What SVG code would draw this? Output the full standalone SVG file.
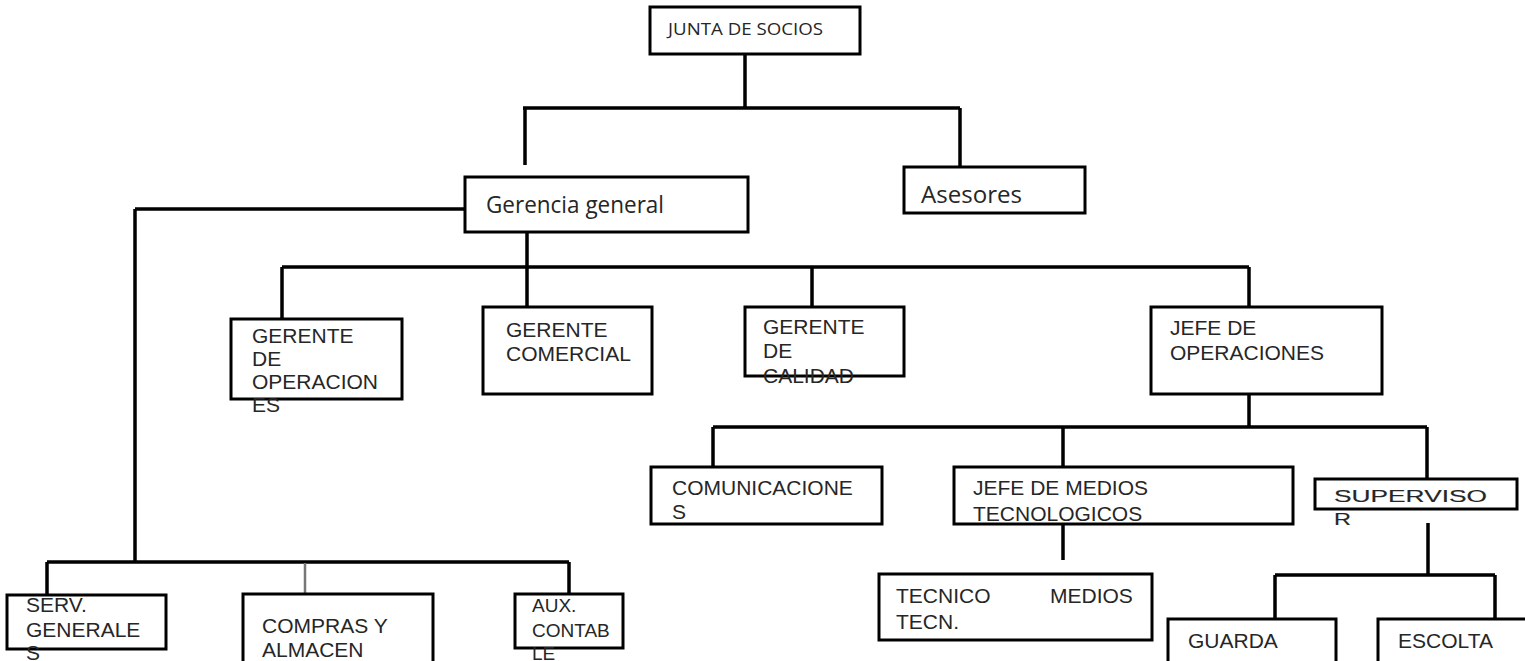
<svg xmlns="http://www.w3.org/2000/svg" width="1525" height="661" viewBox="0 0 1525 661">
<style>
.bg{fill:#ffffff}
.box{fill:#ffffff;stroke:#000000;stroke-width:3}
.ln{stroke:#000000;stroke-width:3.5;fill:none;stroke-linecap:butt}
.lg{stroke:#777777;stroke-width:2.5;fill:none}
.t{font-family:"Liberation Sans",Arial,sans-serif;font-size:21px;fill:#262626}
.s{font-size:19px}
.sv{font-size:17px;stroke:#262626;stroke-width:0.15}
.c{font-family:"Open Sans","Noto Sans",sans-serif;fill:#262626}
</style>
<rect class="bg" x="0" y="0" width="1525" height="661"/>
<g id="connectors">
<path class="ln" d="M745 54 V108 M523 108 H960 M525 108 V165 M960 108 V166"/>
<path class="ln" d="M135 209 H465 M135 209 V562"/>
<path class="ln" d="M527 232 V267 M282 267 H1249 M282 267 V319 M527 267 V307 M812 267 V307 M1249 267 V307"/>
<path class="ln" d="M47 562 H569 M47 562 V595 M569 562 V594"/>
<path class="lg" d="M305 563 V594"/>
<path class="ln" d="M1249 394 V427 M713 427 H1427 M713 427 V467 M1063 427 V467 M1427 427 V479"/>
<path class="ln" d="M1063 524 V560"/>
<path class="ln" d="M1428 523 V575 M1275 575 H1495 M1275 575 V619 M1495 575 V619"/>
</g>
<g id="junta">
<rect class="box" x="650" y="7" width="210" height="47"/>
<text class="c" x="668" y="35" font-size="17" textLength="155" lengthAdjust="spacingAndGlyphs">JUNTA DE SOCIOS</text>
</g>
<g id="gerencia">
<rect class="box" x="465" y="177" width="283" height="55"/>
<text class="c" x="486" y="213" font-size="23" textLength="178" lengthAdjust="spacingAndGlyphs">Gerencia general</text>
</g>
<g id="asesores">
<rect class="box" x="904" y="167" width="181" height="46"/>
<text class="c" x="921" y="203" font-size="23" textLength="101" lengthAdjust="spacingAndGlyphs">Asesores</text>
</g>
<g id="gerente-operaciones">
<rect class="box" x="231" y="319" width="171" height="80"/>
<text class="t" x="252" y="343">GERENTE</text>
<text class="t" x="252" y="366">DE</text>
<text class="t" x="252" y="389">OPERACION</text>
<text class="t" x="252" y="412">ES</text>
</g>
<g id="gerente-comercial">
<rect class="box" x="483" y="307" width="169" height="87"/>
<text class="t" x="506" y="337">GERENTE</text>
<text class="t" x="506" y="361">COMERCIAL</text>
</g>
<g id="gerente-calidad">
<rect class="box" x="745" y="307" width="159" height="69"/>
<text class="t" x="763" y="334">GERENTE</text>
<text class="t" x="763" y="358">DE</text>
<text class="t" x="763" y="383">CALIDAD</text>
</g>
<g id="jefe-operaciones">
<rect class="box" x="1151" y="307" width="231" height="87"/>
<text class="t" x="1170" y="335">JEFE DE</text>
<text class="t" x="1170" y="360">OPERACIONES</text>
</g>
<g id="comunicaciones">
<rect class="box" x="651" y="467" width="231" height="57"/>
<text class="t" x="672" y="495">COMUNICACIONE</text>
<text class="t" x="672" y="519">S</text>
</g>
<g id="jefe-medios">
<rect class="box" x="954" y="467" width="339" height="57"/>
<text class="t" x="973" y="495">JEFE DE MEDIOS</text>
<text class="t" x="973" y="521">TECNOLOGICOS</text>
</g>
<g id="supervisor">
<rect class="box" x="1315" y="479" width="202" height="30"/>
<text class="t sv" x="1334" y="502" textLength="153" lengthAdjust="spacingAndGlyphs">SUPERVISO</text>
<text class="t sv" x="1334" y="525" textLength="17" lengthAdjust="spacingAndGlyphs">R</text>
</g>
<g id="tecnico">
<rect class="box" x="879" y="574" width="273" height="66"/>
<text class="t" x="896" y="603">TECNICO</text>
<text class="t" x="1050" y="603">MEDIOS</text>
<text class="t" x="896" y="629">TECN.</text>
</g>
<g id="serv-generales">
<rect class="box" x="7" y="595" width="159" height="54"/>
<text class="t" x="26" y="612">SERV.</text>
<text class="t" x="26" y="637">GENERALE</text>
<text class="t" x="26" y="660">S</text>
</g>
<g id="compras">
<rect class="box" x="243" y="594" width="190" height="72"/>
<text class="t" x="262" y="633">COMPRAS Y</text>
<text class="t" x="262" y="657">ALMACEN</text>
</g>
<g id="aux-contable">
<rect class="box" x="515" y="594" width="108" height="54"/>
<text class="t s" x="532" y="612">AUX.</text>
<text class="t s" x="532" y="637">CONTAB</text>
<text class="t s" x="532" y="660">LE</text>
</g>
<g id="guarda">
<rect class="box" x="1168" y="619" width="168" height="48"/>
<text class="t" x="1188" y="648">GUARDA</text>
</g>
<g id="escolta">
<rect class="box" x="1378" y="619" width="152" height="48"/>
<text class="t" x="1398" y="648">ESCOLTA</text>
</g>
</svg>
